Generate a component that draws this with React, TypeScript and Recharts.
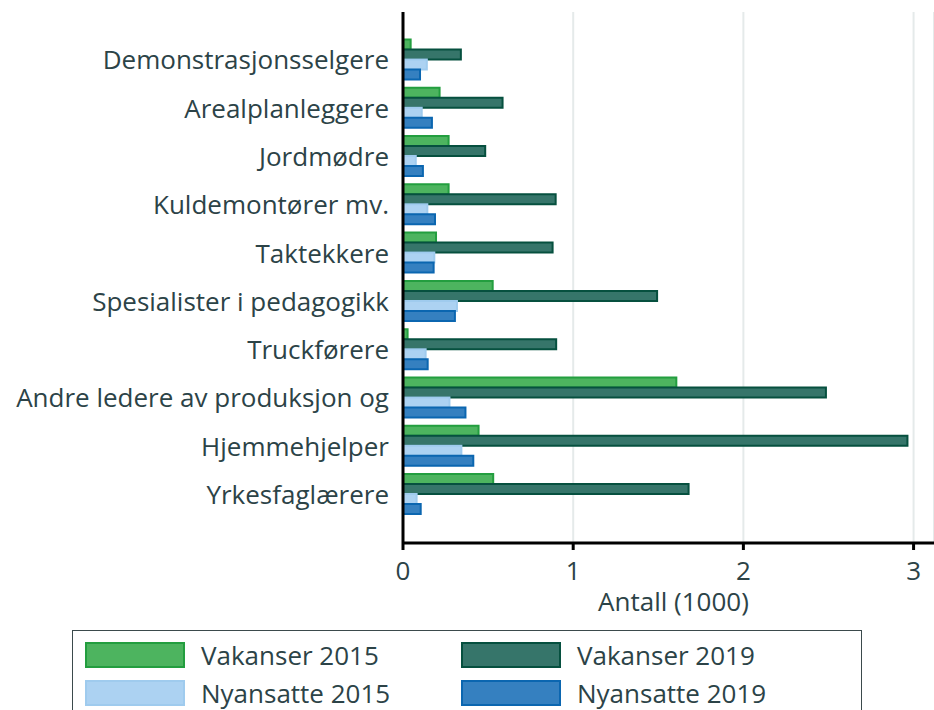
import { Bar, BarChart, CartesianGrid, XAxis, YAxis } from "recharts";

const categories = [
  "Demonstrasjonsselgere",
  "Arealplanleggere",
  "Jordmødre",
  "Kuldemontører mv.",
  "Taktekkere",
  "Spesialister i pedagogikk",
  "Truckførere",
  "Andre ledere av produksjon og",
  "Hjemmehjelper",
  "Yrkesfaglærere",
];

const vakanser2015 = [0.045, 0.215, 0.268, 0.268, 0.194, 0.527, 0.027, 1.606, 0.444, 0.53];
const vakanser2019 = [0.34, 0.585, 0.483, 0.897, 0.879, 1.493, 0.9, 2.485, 2.964, 1.678];
const nyansatte2015 = [0.14, 0.11, 0.075, 0.143, 0.184, 0.317, 0.133, 0.273, 0.343, 0.08];
const nyansatte2019 = [0.1, 0.17, 0.117, 0.188, 0.18, 0.305, 0.145, 0.367, 0.413, 0.104];

const xTicks = [0, 1, 2, 3];

const data = categories.map((name, i) => ({
  name,
  v15: vakanser2015[i],
  v19: vakanser2019[i],
  n15: nyansatte2015[i],
  n19: nyansatte2019[i],
}));

const SERIES = [
  { key: "v15", label: "Vakanser 2015", fill: "#4db45f", stroke: "#239e3f" },
  { key: "v19", label: "Vakanser 2019", fill: "#36756a", stroke: "#06503f" },
  { key: "n15", label: "Nyansatte 2015", fill: "#acd2f2", stroke: "#9fcbee" },
  { key: "n19", label: "Nyansatte 2019", fill: "#3580c0", stroke: "#0b66b0" },
];

const TEXT = "#2c4347";
const FONT = "'Open Sans', sans-serif";
const FS = 26;

function LegendBox() {
  return (
    <div
      style={{
        position: "absolute",
        left: 72,
        top: 630,
        border: "1.5px solid #3b4a4c",
        width: 790,
        height: 100,
        boxSizing: "border-box",
        padding: "11px 0 0 12px",
        display: "grid",
        gridTemplateColumns: "376px 376px",
        gridAutoRows: "26px",
        alignContent: "start",
        rowGap: 12,
        fontFamily: FONT,
        fontSize: FS,
        lineHeight: "26px",
        color: TEXT,
      }}
    >
      {SERIES.map((s) => (
        <div key={s.key} style={{ display: "flex", alignItems: "center", height: 26 }}>
          <span
            style={{
              display: "inline-block",
              width: 100,
              height: 26,
              boxSizing: "border-box",
              background: s.fill,
              border: `2px solid ${s.stroke}`,
              marginRight: 16,
            }}
          />
          <span>{s.label}</span>
        </div>
      ))}
    </div>
  );
}

export default function App() {
  return (
    <div style={{ position: "absolute", left: 0, top: 0, width: 934, height: 710, background: "#fff", overflow: "hidden" }}>
      <BarChart
        width={934}
        height={710}
        data={data}
        layout="vertical"
        margin={{ top: 12, right: 0, left: 0, bottom: 107 }}
        barCategoryGap="7%"
        barGap={0}
        style={{ fontFamily: FONT }}
      >
        <CartesianGrid horizontal={false} stroke="#e5eaea" strokeWidth={2} />
        <XAxis
          type="number"
          domain={[0, 3.12]}
          ticks={xTicks}
          allowDataOverflow
          tick={{ fill: TEXT, fontSize: FS }}
          tickSize={7}
          tickMargin={12}
          tickLine={{ stroke: "#000", strokeWidth: 3 }}
          axisLine={{ stroke: "#000", strokeWidth: 3 }}
          label={{ value: "Antall (1000)", position: "insideBottom", offset: -8, fill: TEXT, fontSize: FS, dx: 5 }}
          height={60}
        />
        <YAxis
          type="category"
          dataKey="name"
          width={403}
          tick={{ fill: TEXT, fontSize: FS }}
          tickLine={false}
          tickMargin={8}
          axisLine={{ stroke: "#000", strokeWidth: 3 }}
          padding={{ top: 24, bottom: 24 }}
          interval={0}
        />
        {SERIES.map((s) => (
          <Bar
            key={s.key}
            dataKey={s.key}
            name={s.label}
            fill={s.fill}
            stroke={s.stroke}
            strokeWidth={2}
            isAnimationActive={false}
          />
        ))}
      </BarChart>
      <LegendBox />
    </div>
  );
}
